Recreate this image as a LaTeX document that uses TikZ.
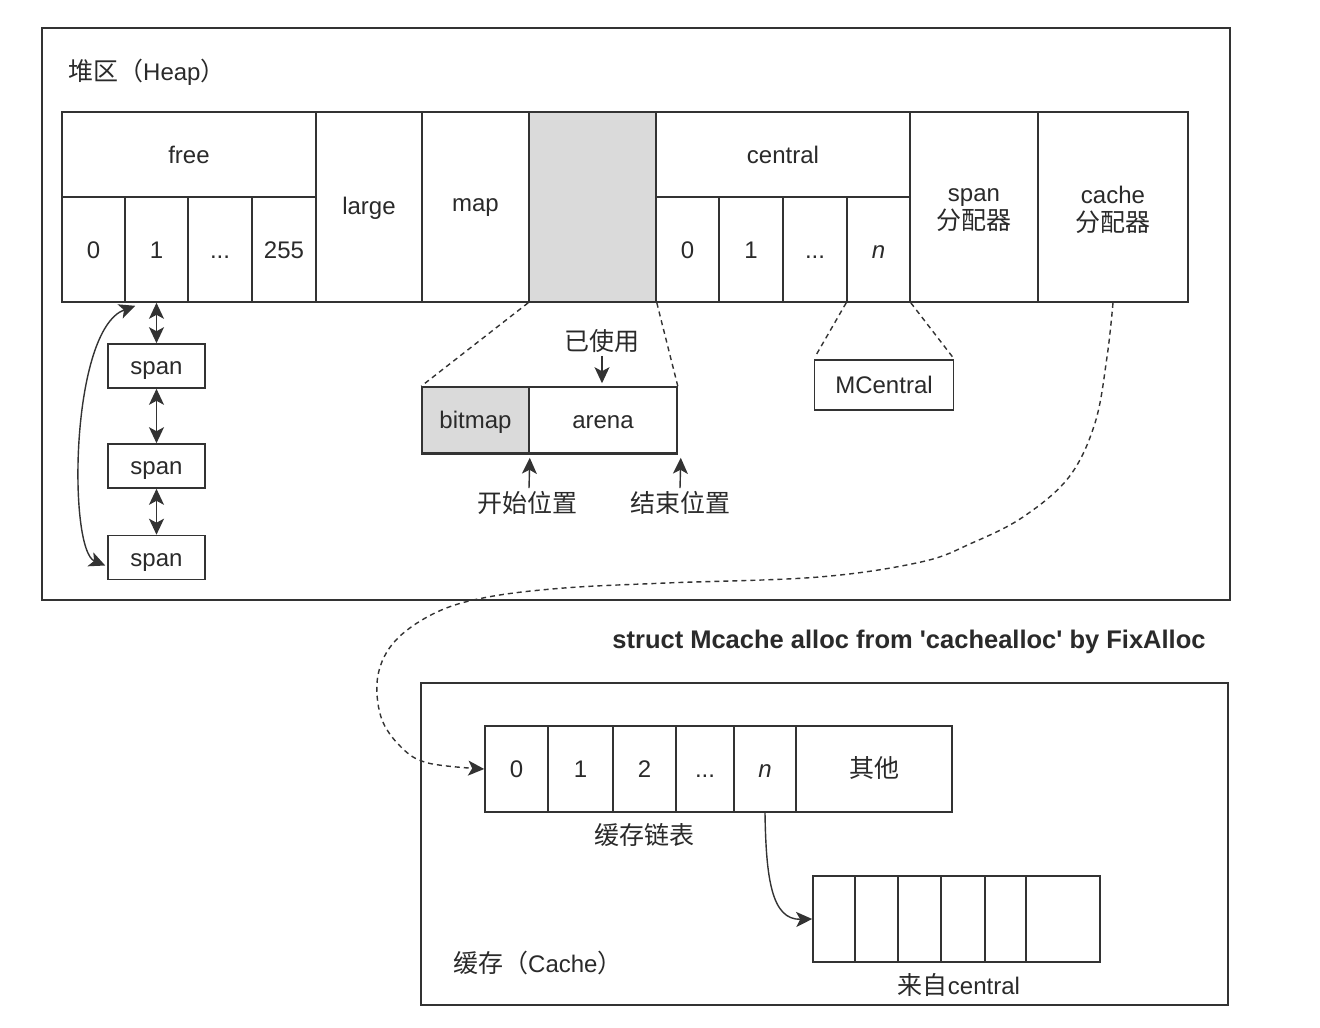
\documentclass[tikz,border=0pt]{standalone}
\usepackage{fontspec}
\setmainfont{Liberation Sans}
\newfontfamily\cjk{Noto Sans CJK SC}
\usetikzlibrary{arrows.meta,calc}
\definecolor{linec}{HTML}{333333}
\definecolor{txtc}{HTML}{2A2A2A}
\definecolor{shade}{HTML}{DADADA}
\tikzset{
  cellbox/.style={draw=linec, line width=1.6pt, inner sep=0pt, text=txtc, font=\fontsize{24}{28}\selectfont, text height=17pt, text depth=0pt},
  lbl/.style={inner sep=0pt, text=txtc, font=\fontsize{24}{28}\selectfont},
  cjklbl/.style={inner sep=0pt, text=txtc, font=\fontsize{25}{28}\selectfont\cjk},
  tiphead/.style={Stealth[length=16pt,width=15pt,inset=4pt]},
  tip/.style={-{Stealth[length=16pt,width=15pt,inset=4pt]}, draw=linec, line width=1.4pt},
  dtip/.style={{Stealth[length=16pt,width=15pt,inset=4pt]}-{Stealth[length=16pt,width=15pt,inset=4pt]}, draw=linec, line width=1.4pt},
  dashln/.style={draw=linec, line width=1.4pt, dash pattern=on 5pt off 4pt},
}
\newcommand{\zh}[1]{{\cjk\fontsize{25}{28}\selectfont #1}}
\begin{document}
\begin{tikzpicture}[x=1pt,y=-1pt]
\useasboundingbox[fill=white] (0,0) rectangle (1320,1028);

% Heap outer box
\node[cellbox, minimum width=1188, minimum height=572] (heap) at (636,314) {};
\node[lbl, anchor=west] (heaplbl) at (68,72) {\zh{堆区（}Heap\zh{）}};

% free
\node[cellbox, minimum width=254, minimum height=85] (free) at (189,154.5) {free};
\node[cellbox, minimum width=63, minimum height=105] (f0) at (93.5,249.5) {0};
\node[cellbox, minimum width=63, minimum height=105] (f1) at (156.5,249.5) {1};
\node[cellbox, minimum width=64, minimum height=105] (f2) at (220,249.5) {...};
\node[cellbox, minimum width=64, minimum height=105] (f3) at (284,249.5) {255};
% large, map, gray
\node[cellbox, minimum width=106, minimum height=190] (large) at (369,207) {};
\node[lbl] (largelbl) at (369,208) {large};
\node[cellbox, minimum width=107, minimum height=190] (map) at (475.5,207) {};
\node[lbl] (maplbl) at (475.5,208) {map};
\node[cellbox, fill=shade, minimum width=127, minimum height=190] (grayblk) at (592.5,207) {};
% central
\node[cellbox, minimum width=254, minimum height=85] (central) at (783,154.5) {central};
\node[cellbox, minimum width=63, minimum height=105] (c0) at (687.5,249.5) {0};
\node[cellbox, minimum width=64, minimum height=105] (c1) at (751,249.5) {1};
\node[cellbox, minimum width=64, minimum height=105] (c2) at (815,249.5) {...};
\node[cellbox, minimum width=63, minimum height=105] (cn) at (878.5,249.5) {\itshape n};
% allocators
\node[cellbox, minimum width=128, minimum height=190] (spanalloc) at (974,207) {};
\node[lbl, align=center] (spanlbl) at (974,210) {span\\\zh{分配器}};
\node[cellbox, minimum width=150, minimum height=190] (cachealloc) at (1113,207) {};
\node[lbl, align=center] (cachelbl) at (1113,210) {cache\\\zh{分配器}};

% spans
\node[cellbox, minimum width=97, minimum height=44] (s1) at (156.5,366) {span};
\node[cellbox, minimum width=97, minimum height=44] (s2) at (156.5,466) {span};
\node[cellbox, minimum width=97, minimum height=44] (s3) at (156.5,557.5) {span};
\draw[dtip] (f1.south) -- (s1.north);
\draw[dtip] (s1.south) -- (s2.north);
\draw[dtip] (s2.south) -- (s3.north);
\coordinate (ctop) at ($(f1.south west)+(11,3)$);
\coordinate (cbot) at ($(s3.west)+(-2,8)$);
\draw[dtip] (ctop) .. controls (70,330) and (68,550) .. (cbot);

% bitmap / arena
\node[cellbox, fill=shade, minimum width=107, minimum height=66] (bitmap) at (475.5,420) {bitmap};
\node[cellbox, minimum width=148, minimum height=66] (arena) at (603,420) {arena};
\draw[draw=linec, line width=3pt] (bitmap.south west) -- (arena.south east);
\draw[dashln] (grayblk.south west) -- (bitmap.north west);
\draw[dashln] (grayblk.south east) -- (arena.north east);
\node[cjklbl] (used) at (602,341) {已使用};
\draw[tip] (used.south) ++(0,3) -- ($(used.south |- arena.north)+(0,-3)$);
\node[cjklbl] (startp) at (527,503) {开始位置};
\node[cjklbl] (endp) at (680,503) {结束位置};
\draw[tip] ($(startp.north)+(2,-3)$) -- ($(bitmap.south east)+(0,4)$);
\draw[tip] ($(endp.north)+(0,-3)$) -- ($(arena.south east)+(3,4)$);

% MCentral
\node[cellbox, minimum width=139, minimum height=50] (mc) at (884,385) {MCentral};
\draw[dashln, shorten >=6pt] (cn.south west) -- (mc.north west);
\draw[dashln, shorten >=3pt] (cn.south east) -- (mc.north east);

% title of cache
\node[lbl, font=\fontsize{25.5}{28}\selectfont\bfseries] (title) at (909,642) {struct Mcache alloc from \textquotesingle cachealloc\textquotesingle{} by FixAlloc};

% Cache box
\node[cellbox, minimum width=807, minimum height=322] (cachebox) at (824.5,844) {};
\node[lbl, anchor=west] (cachelbl2) at (453,963) {\zh{缓存（}Cache\zh{）}};
\node[cellbox, minimum width=63, minimum height=86] (k0) at (516.5,769) {0};
\node[cellbox, minimum width=65, minimum height=86] (k1) at (580.5,769) {1};
\node[cellbox, minimum width=63, minimum height=86] (k2) at (644.5,769) {2};
\node[cellbox, minimum width=58, minimum height=86] (k3) at (705,769) {...};
\node[cellbox, minimum width=62, minimum height=86] (kn) at (765,769) {\itshape n};
\node[cellbox, minimum width=156, minimum height=86] (kother) at (874,769) {\zh{其他}};
\node[cjklbl] (listlbl) at (644,835) {缓存链表};

% from central
\node[cellbox, minimum width=42, minimum height=86] (r1) at (834,919) {};
\node[cellbox, minimum width=43, minimum height=86] (r2) at (876.5,919) {};
\node[cellbox, minimum width=43, minimum height=86] (r3) at (919.5,919) {};
\node[cellbox, minimum width=44, minimum height=86] (r4) at (963,919) {};
\node[cellbox, minimum width=41, minimum height=86] (r5) at (1005.5,919) {};
\node[cellbox, minimum width=74, minimum height=86] (r6) at (1063,919) {};
\node[lbl] (fromlbl) at (959,985) {\zh{来自}central};
\draw[tip] (kn.south) .. controls (766,880) and (772,920) .. (r1.west);

% big dashed curve
\draw[dashln, -{Stealth[length=16pt,width=15pt,inset=4pt]}] plot[smooth, tension=0.6] coordinates {
 (cachealloc.south) (1107,357) (1095,423) (1069,477) (1023,517) (972,543) (921,562)
 (819,577) (666,583) (564,588) (488,597) (437,612) (396,640) (378,675) (381,717)
 (401,747) (428,763) (k0.west)};
\end{tikzpicture}
\end{document}
